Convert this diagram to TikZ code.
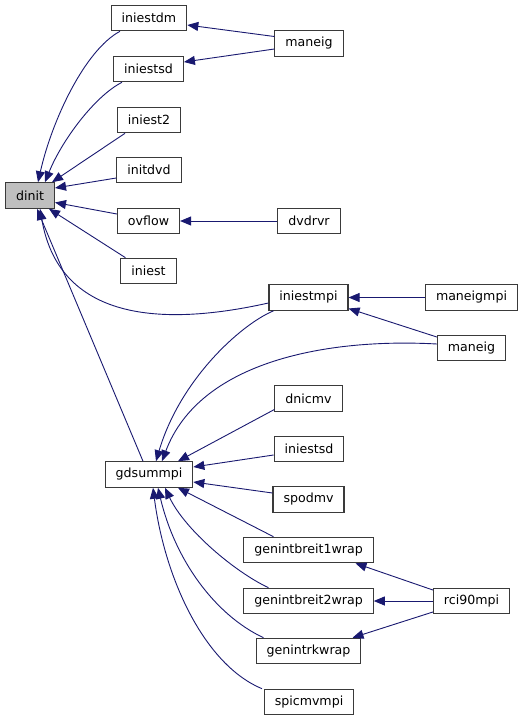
\documentclass[tikz,border=0pt]{standalone}
\usepackage{fontspec}
\setmainfont{DejaVu Sans}
\usetikzlibrary{arrows.meta}
\definecolor{edgeblue}{HTML}{191970}
\definecolor{boxline}{HTML}{3A3A3A}
\definecolor{hilite}{HTML}{BFBFBF}
\begin{document}
\begin{tikzpicture}[x=1pt, y=-1pt,
    fn/.style={draw=boxline, line width=1.1pt, rectangle, inner xsep=10.5pt, inner ysep=0pt,
      minimum height=25.5pt, font=\fontsize{12.6}{15}\selectfont, fill=white},
    root/.style={fn, fill=hilite},
    call/.style={draw=edgeblue, line width=0.9pt, -{Triangle[length=11pt,width=9pt]}}]
    \useasboundingbox (0,0) rectangle (525,721);

    \node[root] (dinit) at (30,195.5) {dinit};
    \node[fn] (iniestdm) at (149,18) {iniestdm};
    \node[fn] (iniestsd) at (148.5,69) {iniestsd};
    \node[fn] (iniest2) at (149,120) {iniest2};
    \node[fn] (initdvd) at (149,170) {initdvd};
    \node[fn] (ovflow) at (148.5,221) {ovflow};
    \node[fn] (iniest) at (148.5,271) {iniest};
    \node[fn] (maneig) at (309,43.5) {maneig};
    \node[fn] (dvdrvr) at (309,221) {dvdrvr};
    \node[fn] (iniestmpi) at (308.5,297.5) {iniestmpi};
    \node[fn] (maneigmpi) at (471.5,297.5) {maneigmpi};
    \node[fn] (maneigb) at (471.5,348) {maneig};
    \node[fn] (gdsummpi) at (149,474.5) {gdsummpi};
    \node[fn] (dnicmv) at (308.5,398.5) {dnicmv};
    \node[fn] (iniestsdb) at (309,449) {iniestsd};
    \node[fn] (spodmv) at (308.5,499.5) {spodmv};
    \node[fn] (genintbreit1wrap) at (308.5,550) {genintbreit1wrap};
    \node[fn] (genintbreit2wrap) at (308.5,601) {genintbreit2wrap};
    \node[fn] (genintrkwrap) at (308.5,651) {genintrkwrap};
    \node[fn] (spicmvmpi) at (309,702) {spicmvmpi};
    \node[fn] (rci90mpi) at (471.5,601) {rci90mpi};

    \draw[call] ([xshift=-29pt]iniestdm.south) .. controls (85,50) and (52,120) .. ([xshift=8pt]dinit.north);
    \draw[call] ([xshift=-26.5pt]iniestsd.south) .. controls (95,96) and (62,140) .. ([xshift=15pt]dinit.north);
    \draw[call] ([xshift=-24pt]iniest2.south) -- ([xshift=22pt]dinit.north);
    \draw[call] ([yshift=-8pt]initdvd.west) -- ([yshift=7.5pt]dinit.east);
    \draw[call] ([yshift=7pt]ovflow.west) -- ([yshift=-7pt]dinit.east);
    \draw[call] ([xshift=-23pt]iniest.north) -- ([xshift=19pt]dinit.south);
    \draw[call] ([yshift=-5.5pt]iniestmpi.west) .. controls (170,325) and (60,325) .. ([xshift=10pt]dinit.south);
    \draw[call] ([xshift=-6pt]gdsummpi.north) -- ([xshift=7pt]dinit.south);

    \draw[call] ([yshift=7pt]maneig.west) -- ([yshift=-7pt]iniestdm.east);
    \draw[call] ([yshift=-5.5pt]maneig.west) -- ([yshift=7pt]iniestsd.east);
    \draw[call] (dvdrvr.west) -- (ovflow.east);
    \draw[call] (maneigmpi.west) -- (iniestmpi.east);
    \draw[call] ([yshift=11pt]maneigb.west) -- ([yshift=-11pt]iniestmpi.east);

    \draw[call] ([xshift=-35pt]iniestmpi.south) .. controls (240,325) and (180,380) .. ([xshift=7pt]gdsummpi.north);
    \draw[call] ([yshift=4pt]maneigb.west) .. controls (330,338) and (200,360) .. ([xshift=13pt]gdsummpi.north);
    \draw[call] ([yshift=-11pt]dnicmv.west) -- ([xshift=29pt]gdsummpi.north);
    \draw[call] ([yshift=-6pt]iniestsdb.west) -- ([yshift=7.5pt]gdsummpi.east);
    \draw[call] ([yshift=6.5pt]spodmv.west) -- ([yshift=-7.5pt]gdsummpi.east);
    \draw[call] ([xshift=-35pt]genintbreit1wrap.north) -- ([xshift=29pt]gdsummpi.south);
    \draw[call] ([xshift=-40pt]genintbreit2wrap.north) .. controls (235,572) and (185,530) .. ([xshift=16pt]gdsummpi.south);
    \draw[call] ([xshift=-45pt]genintrkwrap.north) .. controls (215,615) and (175,560) .. ([xshift=9pt]gdsummpi.south);
    \draw[call] ([xshift=-47pt]spicmvmpi.north) .. controls (205,665) and (165,580) .. ([xshift=4pt]gdsummpi.south);

    \draw[call] ([yshift=11pt]rci90mpi.west) -- ([xshift=47pt]genintbreit1wrap.south);
    \draw[call] (rci90mpi.west) -- (genintbreit2wrap.east);
    \draw[call] ([yshift=-11pt]rci90mpi.west) -- ([xshift=44pt]genintrkwrap.north);
\end{tikzpicture}
\end{document}
